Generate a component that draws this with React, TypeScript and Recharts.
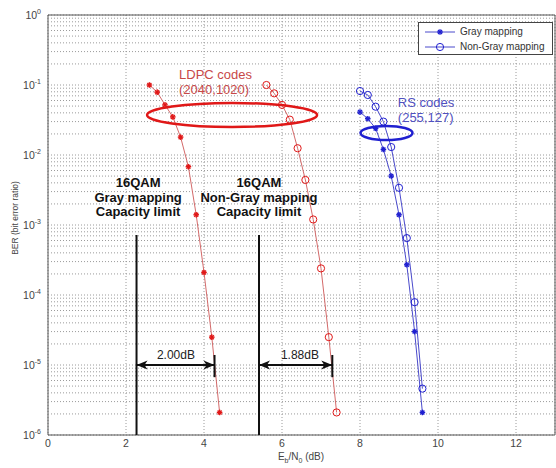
import {
  ComposedChart,
  Line,
  XAxis,
  YAxis,
  CartesianGrid,
  ReferenceLine,
  ReferenceDot,
  ReferenceArea,
} from 'recharts';

// Eb/N0 (dB) and BER
const ldpcGrayEb = [2.6, 2.8, 3.0, 3.2, 3.4, 3.6, 3.8, 4.0, 4.2, 4.4];
const ldpcGrayBer = [0.1, 0.079, 0.052, 0.035, 0.018, 0.0068, 0.0014, 0.00021, 0.000025, 0.0000021];
const ldpcNonGrayEb = [5.6, 5.8, 6.0, 6.2, 6.4, 6.6, 6.8, 7.0, 7.2, 7.4];
const ldpcNonGrayBer = [0.1, 0.076, 0.052, 0.032, 0.0125, 0.0044, 0.0012, 0.00024, 0.000025, 0.0000021];
const rsGrayEb = [8.0, 8.2, 8.4, 8.6, 8.8, 9.0, 9.2, 9.4, 9.6];
const rsGrayBer = [0.041, 0.033, 0.024, 0.012, 0.005, 0.0014, 0.00027, 0.00003, 0.0000021];
const rsNonGrayEb = [8.0, 8.2, 8.4, 8.6, 8.8, 9.0, 9.2, 9.4, 9.6];
const rsNonGrayBer = [0.082, 0.072, 0.049, 0.03, 0.013, 0.0034, 0.00065, 0.000079, 0.0000046];

const xTicks = [0, 2, 4, 6, 8, 10, 12];
const yTicks = [1e-6, 1e-5, 1e-4, 1e-3, 1e-2, 1e-1, 1];
const yExponents = ['-6', '-5', '-4', '-3', '-2', '-1', '0'];

const grayLimit = 2.27;
const nonGrayLimit = 5.41;
const grayGap = 2.0;
const nonGrayGap = 1.88;

const toRows = (eb: number[], ber: number[]) => eb.map((e, i) => ({ eb: e, ber: ber[i] }));

// log grid: 2..9 x every decade (decades come from the ticks)
const minorY: number[] = [];
yTicks.slice(0, -1).forEach((d) => {
  for (let m = 2; m < 10; m++) minorY.push(m * d);
});

const RED = '#e01818';
const RED_LINE = '#d46a6a';
const BLUE = '#2020d0';
const BLUE_LINE = '#4a4acc';
const FONT = '"Liberation Sans", Arial, sans-serif';

function Star({ cx, cy, color }: any) {
  if (cx == null || cy == null) return null;
  const s = 2.8;
  return (
    <g stroke={color} strokeWidth={1.4}>
      <line x1={cx - s} y1={cy} x2={cx + s} y2={cy} />
      <line x1={cx} y1={cy - s} x2={cx} y2={cy + s} />
      <line x1={cx - 2} y1={cy - 2} x2={cx + 2} y2={cy + 2} />
      <line x1={cx - 2} y1={cy + 2} x2={cx + 2} y2={cy - 2} />
    </g>
  );
}

function Ring({ cx, cy, color }: any) {
  if (cx == null || cy == null) return null;
  return <circle cx={cx} cy={cy} r={3.6} fill="none" stroke={color} strokeWidth={1} />;
}

function XTick({ x, y, payload }: any) {
  return (
    <text x={x} y={y + 4} textAnchor="middle" fontSize={10.5} fill="#444" fontFamily={FONT}>
      {payload.value}
    </text>
  );
}

function YTick({ x, y, payload, index }: any) {
  const i = yTicks.indexOf(payload.value);
  return (
    <text x={x + 1} y={y + 4} textAnchor="end" fontSize={10.5} fill="#444" fontFamily={FONT}>
      10
      <tspan dy={-5} fontSize={7}>
        {yExponents[i >= 0 ? i : index]}
      </tspan>
    </text>
  );
}

const note = (text: string, opts: { color: string; size: number; bold?: boolean; anchor?: string; dy?: number }) =>
  (p: any) => (
    <text
      x={p.cx}
      y={p.cy + (opts.dy ?? 4)}
      textAnchor={opts.anchor ?? 'middle'}
      fontSize={opts.size}
      fontWeight={opts.bold ? 700 : 400}
      fill={opts.color}
      fontFamily={FONT}
    >
      {text}
    </text>
  );

const ellipse = (rx: number, ry: number, color: string) => (p: any) => (
  <ellipse cx={p.cx} cy={p.cy} rx={rx} ry={ry} fill="none" stroke={color} strokeWidth={2.5} />
);

const arrowHead = (dir: 'left' | 'right') => (p: any) => {
  const k = dir === 'left' ? 1 : -1;
  return (
    <polygon
      points={`${p.cx},${p.cy} ${p.cx + 11 * k},${p.cy - 4.5} ${p.cx + 8 * k},${p.cy} ${p.cx + 11 * k},${p.cy + 4.5}`}
      fill="#111"
    />
  );
};

function LegendRow({ marker, label }: { marker: 'star' | 'ring'; label: string }) {
  return (
    <div style={{ display: 'flex', alignItems: 'center', height: 15 }}>
      <svg width={34} height={12}>
        <line x1={2} y1={6} x2={32} y2={6} stroke={BLUE_LINE} strokeWidth={1} />
        {marker === 'star' ? <Star cx={17} cy={6} color={BLUE} /> : <Ring cx={17} cy={6} color={BLUE} />}
      </svg>
      <span style={{ marginLeft: 3 }}>{label}</span>
    </div>
  );
}

export default function App() {
  const ldpcGray = toRows(ldpcGrayEb, ldpcGrayBer);
  const ldpcNonGray = toRows(ldpcNonGrayEb, ldpcNonGrayBer);
  const rsGray = toRows(rsGrayEb, rsGrayBer);
  const rsNonGray = toRows(rsNonGrayEb, rsNonGrayBer);

  return (
    <div style={{ position: 'absolute', left: 0, top: 0, width: 556, height: 468, background: '#fff', fontFamily: FONT }}>
      <ComposedChart width={556} height={468} margin={{ top: 15, right: 1, bottom: 0, left: 0 }}>
        <CartesianGrid stroke="#9a9a9a" strokeDasharray="1 2" />
        <XAxis
          type="number"
          dataKey="eb"
          domain={[0, 13]}
          ticks={xTicks}
          height={33}
          tick={<XTick />}
          tickLine={false}
          axisLine={false}
          allowDataOverflow
        />
        <YAxis
          type="number"
          scale="log"
          domain={[1e-6, 1]}
          ticks={yTicks}
          width={48}
          tick={<YTick />}
          tickLine={false}
          axisLine={false}
          allowDataOverflow
        />
        {minorY.map((v) => (
          <ReferenceLine key={`m${v}`} y={v} stroke="#9a9a9a" strokeDasharray="1 2" />
        ))}
        <ReferenceArea x1={0} x2={13} y1={1e-6} y2={1} fill="none" stroke="#555" strokeWidth={1} />

        <Line data={ldpcGray} dataKey="ber" stroke={RED_LINE} strokeWidth={1} isAnimationActive={false}
          dot={(p: any) => <Star key={`lg${p.index}`} cx={p.cx} cy={p.cy} color={RED} />} />
        <Line data={ldpcNonGray} dataKey="ber" stroke={RED_LINE} strokeWidth={1} isAnimationActive={false}
          dot={(p: any) => <Ring key={`ln${p.index}`} cx={p.cx} cy={p.cy} color={RED} />} />
        <Line data={rsGray} dataKey="ber" stroke={BLUE_LINE} strokeWidth={1} isAnimationActive={false}
          dot={(p: any) => <Star key={`rg${p.index}`} cx={p.cx} cy={p.cy} color={BLUE} />} />
        <Line data={rsNonGray} dataKey="ber" stroke={BLUE_LINE} strokeWidth={1} isAnimationActive={false}
          dot={(p: any) => <Ring key={`rn${p.index}`} cx={p.cx} cy={p.cy} color={BLUE} />} />

        {/* ellipses and code labels */}
        <ReferenceDot x={4.72} y={0.0373} r={0} shape={ellipse(85, 12, RED)} />
        <ReferenceDot x={8.68} y={0.0206} r={0} shape={ellipse(26, 7, BLUE)} />
        <ReferenceDot x={3.36} y={0.139} r={0} shape={note('LDPC codes', { color: '#c84848', size: 13, anchor: 'start' })} />
        <ReferenceDot x={3.36} y={0.0848} r={0} shape={note('(2040,1020)', { color: '#c84848', size: 13, anchor: 'start' })} />
        <ReferenceDot x={8.97} y={0.0553} r={0} shape={note('RS codes', { color: '#5050c0', size: 13, anchor: 'start' })} />
        <ReferenceDot x={8.97} y={0.0338} r={0} shape={note('(255,127)', { color: '#5050c0', size: 13, anchor: 'start' })} />

        {/* capacity limits */}
        <ReferenceDot x={2.31} y={0.00398} r={0} shape={note('16QAM', { color: '#111', size: 13, bold: true })} />
        <ReferenceDot x={2.31} y={0.00243} r={0} shape={note('Gray mapping', { color: '#111', size: 13, bold: true })} />
        <ReferenceDot x={2.31} y={0.00153} r={0} shape={note('Capacity limit', { color: '#111', size: 13, bold: true })} />
        <ReferenceDot x={5.41} y={0.00398} r={0} shape={note('16QAM', { color: '#111', size: 13, bold: true })} />
        <ReferenceDot x={5.41} y={0.00243} r={0} shape={note('Non-Gray mapping', { color: '#111', size: 13, bold: true })} />
        <ReferenceDot x={5.41} y={0.00153} r={0} shape={note('Capacity limit', { color: '#111', size: 13, bold: true })} />
        <ReferenceLine segment={[{ x: grayLimit, y: 1e-6 }, { x: grayLimit, y: 7.2e-4 }]} stroke="#111" strokeWidth={2} />
        <ReferenceLine segment={[{ x: nonGrayLimit, y: 1e-6 }, { x: nonGrayLimit, y: 7.2e-4 }]} stroke="#111" strokeWidth={2} />

        {/* gap arrows */}
        <ReferenceLine segment={[{ x: grayLimit, y: 1e-5 }, { x: grayLimit + grayGap, y: 1e-5 }]} stroke="#111" strokeWidth={2} />
        <ReferenceLine segment={[{ x: grayLimit + grayGap, y: 1.39e-5 }, { x: grayLimit + grayGap, y: 6.7e-6 }]} stroke="#111" strokeWidth={2} />
        <ReferenceDot x={grayLimit} y={1e-5} r={0} shape={arrowHead('left')} />
        <ReferenceDot x={grayLimit + grayGap} y={1e-5} r={0} shape={arrowHead('right')} />
        <ReferenceDot x={3.28} y={1.39e-5} r={0} shape={note('2.00dB', { color: '#222', size: 12 })} />

        <ReferenceLine segment={[{ x: nonGrayLimit, y: 1e-5 }, { x: nonGrayLimit + nonGrayGap, y: 1e-5 }]} stroke="#111" strokeWidth={2} />
        <ReferenceLine segment={[{ x: nonGrayLimit + nonGrayGap, y: 1.39e-5 }, { x: nonGrayLimit + nonGrayGap, y: 6.7e-6 }]} stroke="#111" strokeWidth={2} />
        <ReferenceDot x={nonGrayLimit} y={1e-5} r={0} shape={arrowHead('left')} />
        <ReferenceDot x={nonGrayLimit + nonGrayGap} y={1e-5} r={0} shape={arrowHead('right')} />
        <ReferenceDot x={6.46} y={1.39e-5} r={0} shape={note('1.88dB', { color: '#222', size: 12 })} />
      </ComposedChart>

      {/* legend */}
      <div
        style={{
          position: 'absolute', left: 418, top: 22, width: 135, height: 33,
          border: '1px solid #444', background: '#fff', fontSize: 10, color: '#333',
          padding: '1px 0 0 4px', boxSizing: 'border-box',
        }}
      >
        <LegendRow marker="star" label="Gray mapping" />
        <LegendRow marker="ring" label="Non-Gray mapping" />
      </div>

      {/* axis titles */}
      <div
        style={{
          position: 'absolute', left: 15, top: 218, transform: 'translate(-50%, -50%) rotate(-90deg)',
          whiteSpace: 'nowrap', fontSize: 8.5, color: '#444',
        }}
      >
        BER (bit error ratio)
      </div>
      <div
        style={{
          position: 'absolute', left: 301, top: 457, transform: 'translate(-50%, -50%)',
          whiteSpace: 'nowrap', fontSize: 10, color: '#444',
        }}
      >
        E<sub style={{ fontSize: 7 }}>b</sub>/N<sub style={{ fontSize: 7 }}>0</sub> (dB)
      </div>
    </div>
  );
}
